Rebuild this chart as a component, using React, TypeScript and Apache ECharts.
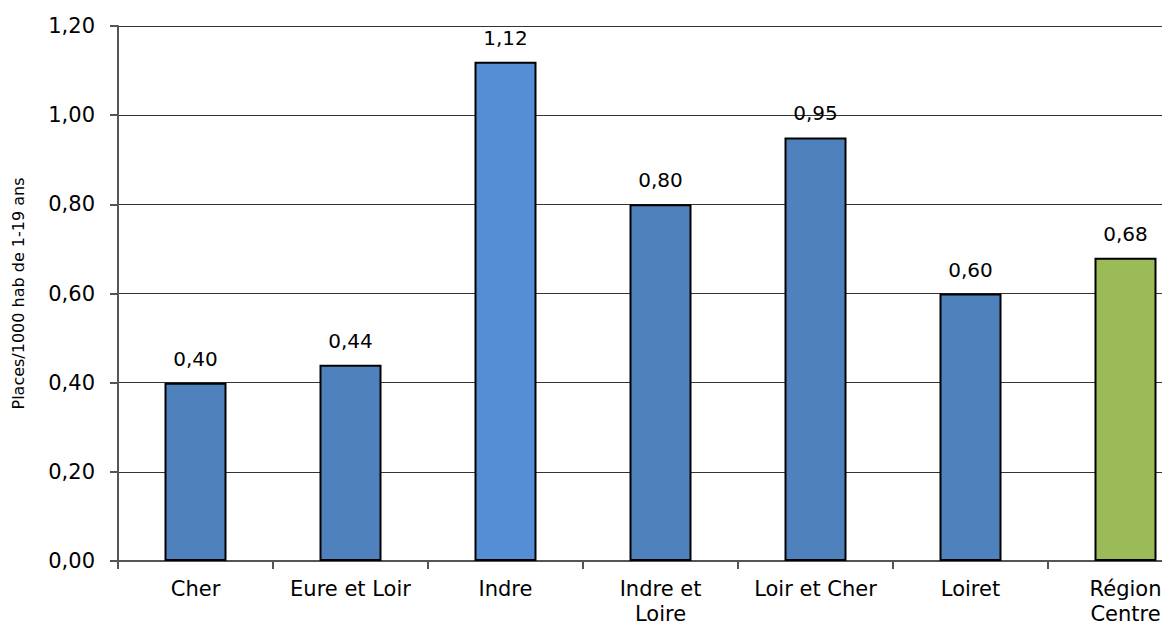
import React, { useEffect, useRef } from "react";
import * as echarts from "echarts";

const categories = ["Cher", "Eure et Loir", "Indre", "Indre et\nLoire", "Loir et Cher", "Loiret", "Région\nCentre"];
const values = [0.40, 0.44, 1.12, 0.80, 0.95, 0.60, 0.68];
const barColors = ["#4F81BD", "#4F81BD", "#558ED5", "#4F81BD", "#4F81BD", "#4F81BD", "#9BBB59"];
const yAxisName = "Places/1000 hab de 1-19 ans";

const FONT = "DejaVu Sans, Liberation Sans, Arial, sans-serif";
const fmt = (v: number) => v.toFixed(2).replace(".", ",");

export default function App() {
  const ref = useRef<HTMLDivElement>(null);
  useEffect(() => {
    if (!ref.current) return;
    const chart = echarts.init(ref.current, null, { renderer: "svg" });
    chart.setOption({
      animation: false,
      backgroundColor: "#ffffff",
      grid: { left: 118, top: 26, width: 1085, height: 535, containLabel: false, outerBoundsMode: "none" },
      xAxis: {
        type: "category",
        data: categories,
        axisLine: { show: true, lineStyle: { color: "#555", width: 2 } },
        axisTick: { show: true, length: 8, lineStyle: { color: "#555", width: 2 } },
        axisLabel: {
          color: "#000",
          fontFamily: FONT,
          fontSize: 21,
          lineHeight: 25,
          margin: 15,
          interval: 0,
        },
      },
      yAxis: {
        type: "value",
        min: 0,
        max: 1.2,
        interval: 0.2,
        name: yAxisName,
        nameLocation: "middle",
        nameGap: 92,
        nameTextStyle: { color: "#000", fontFamily: FONT, fontSize: 16 },
        axisLine: { show: true, lineStyle: { color: "#555", width: 2 } },
        axisTick: { show: true, inside: false, length: 8, lineStyle: { color: "#555", width: 2 } },
        axisLabel: {
          color: "#000",
          fontFamily: FONT,
          fontSize: 21,
          margin: 23,
          formatter: (v: number) => fmt(v),
        },
        splitLine: { show: true, lineStyle: { color: "#333", width: 1 } },
      },
      series: [
        {
          type: "bar",
          barWidth: 62,
          data: values.map((v, i) => ({
            value: v,
            itemStyle: { color: barColors[i], borderColor: "#000", borderWidth: 2 },
          })),
          label: {
            show: true,
            position: "top",
            distance: 14,
            color: "#000",
            fontFamily: FONT,
            fontSize: 20,
            formatter: (p: any) => fmt(p.value),
          },
        },
      ],
    });
    return () => chart.dispose();
  }, []);
  return <div ref={ref} style={{ width: 1162, height: 628, position: "absolute", left: 0, top: 0 }} />;
}
